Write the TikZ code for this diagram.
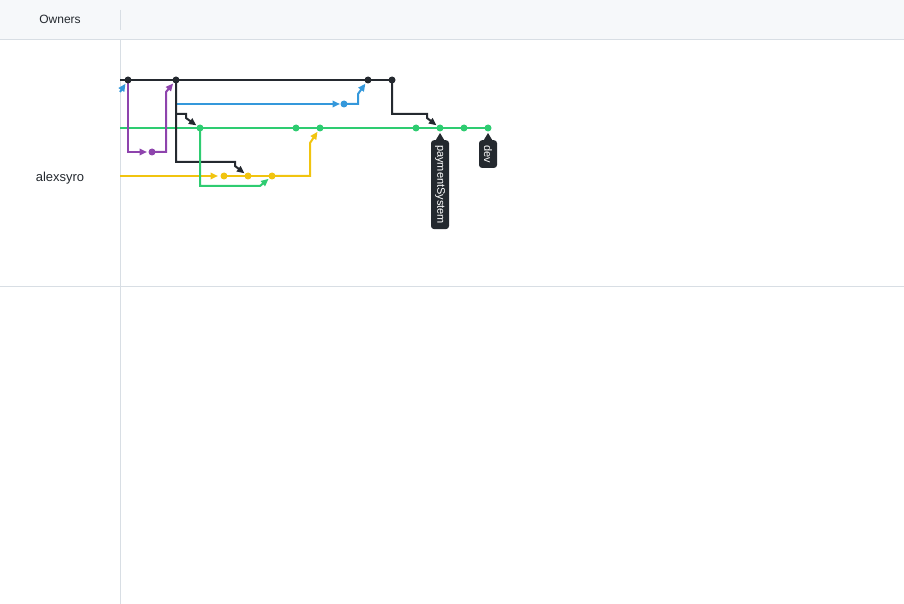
\documentclass[tikz,border=0pt]{standalone}
\usepackage{fontspec}
\setmainfont{Liberation Sans}
\usetikzlibrary{arrows.meta}
\definecolor{gblack}{HTML}{24292F}
\definecolor{gblue}{HTML}{3498DB}
\definecolor{ggreen}{HTML}{2ECC71}
\definecolor{gyellow}{HTML}{F1C40F}
\definecolor{gpurple}{HTML}{8E44AD}
\definecolor{hdrbg}{HTML}{F6F8FA}
\definecolor{gridc}{HTML}{D8DEE4}
\definecolor{tagc}{HTML}{24292F}
\begin{document}
\begin{tikzpicture}[x=1pt,y=-1pt,
  br/.style={line width=2pt},
  arr/.style={-{Triangle[length=7.5pt,width=6.5pt]}, shorten >=4.5pt},
  harr/.style={-{Triangle[length=7.5pt,width=6.5pt]}, shorten >=5pt},
  dot/.style={circle, inner sep=0pt, minimum size=7pt},
  tag/.style={rotate=-90, anchor=west, fill=tagc, text=white, rounded corners=3pt,
    font=\fontsize{11}{13}\selectfont, inner xsep=5pt, inner ysep=0pt, minimum height=18pt},
  lbl/.style={text=gblack, anchor=center}]
\useasboundingbox (0,0) rectangle (904,604);
% header and grid
\fill[hdrbg] (0,0) rectangle (904,40);
\draw[gridc, line width=1pt] (0,40) -- (904,40);
\draw[gridc, line width=1pt] (0,286) -- (904,286);
\draw[gridc, line width=1pt] (120,10) -- (120,30);
\draw[gridc, line width=1pt] (120,40) -- (120,604);
\node[lbl, font=\fontsize{12}{14}\selectfont] (owners) at (60,19) {Owners};
\node[lbl, font=\fontsize{13}{15}\selectfont] (user) at (60,178.5) {alexsyro};
% commit positions
\coordinate (bs) at (120,80);
\coordinate (b1) at (128,80);
\coordinate (b2) at (176,80);
\coordinate (b3) at (368,80);
\coordinate (b4) at (392,80);
\coordinate (us) at (120,92);
\coordinate (u1) at (344,104);
\coordinate (p1) at (152,152);
\coordinate (gs) at (120,128);
\coordinate (g1) at (200,128);
\coordinate (g2) at (296,128);
\coordinate (g3) at (320,128);
\coordinate (g4) at (416,128);
\coordinate (g5) at (440,128);
\coordinate (g6) at (464,128);
\coordinate (g7) at (488,128);
\coordinate (ys) at (120,176);
\coordinate (y1) at (224,176);
\coordinate (y2) at (248,176);
\coordinate (y3) at (272,176);
% lines
\draw[br, gblack] (bs) -- (b1) -- (b2) -- (b3) -- (b4);
\draw[br, ggreen] (gs) -- (g1) -- (g2) -- (g3) -- (g4) -- (g5) -- (g6) -- (g7);
\draw[br, gyellow, harr, shorten >=6pt] (ys) -- (y1);
\draw[br, gyellow] (y1) -- (y2) -- (y3);
\draw[br, gblue, arr] (us) -- (b1);
\draw[br, gpurple, harr] (b1) |- (p1);
\draw[br, gpurple, arr] (p1) -- ++(14,0) -- ++(0,-60) -- (b2);
\draw[br, gblue, harr, shorten >=4pt] (b2) |- (u1);
\draw[br, gblue, arr] (u1) -- ++(14,0) -- ++(0,-10) -- (b3);
\draw[br, gblack, arr] (b2) -- ++(0,82) -- ++(59,0) -- ++(0,4) -- (y2);
\draw[br, gblack, arr] (176,114) -- ++(10,0) -- ++(0,4) -- (g1);
\draw[br, ggreen, arr] (g1) -- ++(0,58) -- ++(60,0) -- (y3);
\draw[br, gyellow, arr] (y3) -- ++(38,0) -- ++(0,-33) -- (g3);
\draw[br, gblack, arr] (b4) -- ++(0,34) -- ++(35,0) -- ++(0,4) -- (g5);
% dots
\foreach \c in {b1,b2,b3,b4} \node[dot, fill=gblack] at (\c) {};
\node[dot, fill=gblue] at (u1) {};
\node[dot, fill=gpurple] at (p1) {};
\foreach \c in {g1,g2,g3,g4,g5,g6,g7} \node[dot, fill=ggreen] at (\c) {};
\foreach \c in {y1,y2,y3} \node[dot, fill=gyellow] at (\c) {};
% tags
\node[tag] (ps) at (440,140) {paymentSystem};
\fill[tagc] (ps.west) ++(0,-7) -- ++(4.5,7.5) -- ++(-9,0) -- cycle;
\node[tag] (dv) at (488,140) {dev};
\fill[tagc] (dv.west) ++(0,-7) -- ++(4.5,7.5) -- ++(-9,0) -- cycle;
\end{tikzpicture}
\end{document}
